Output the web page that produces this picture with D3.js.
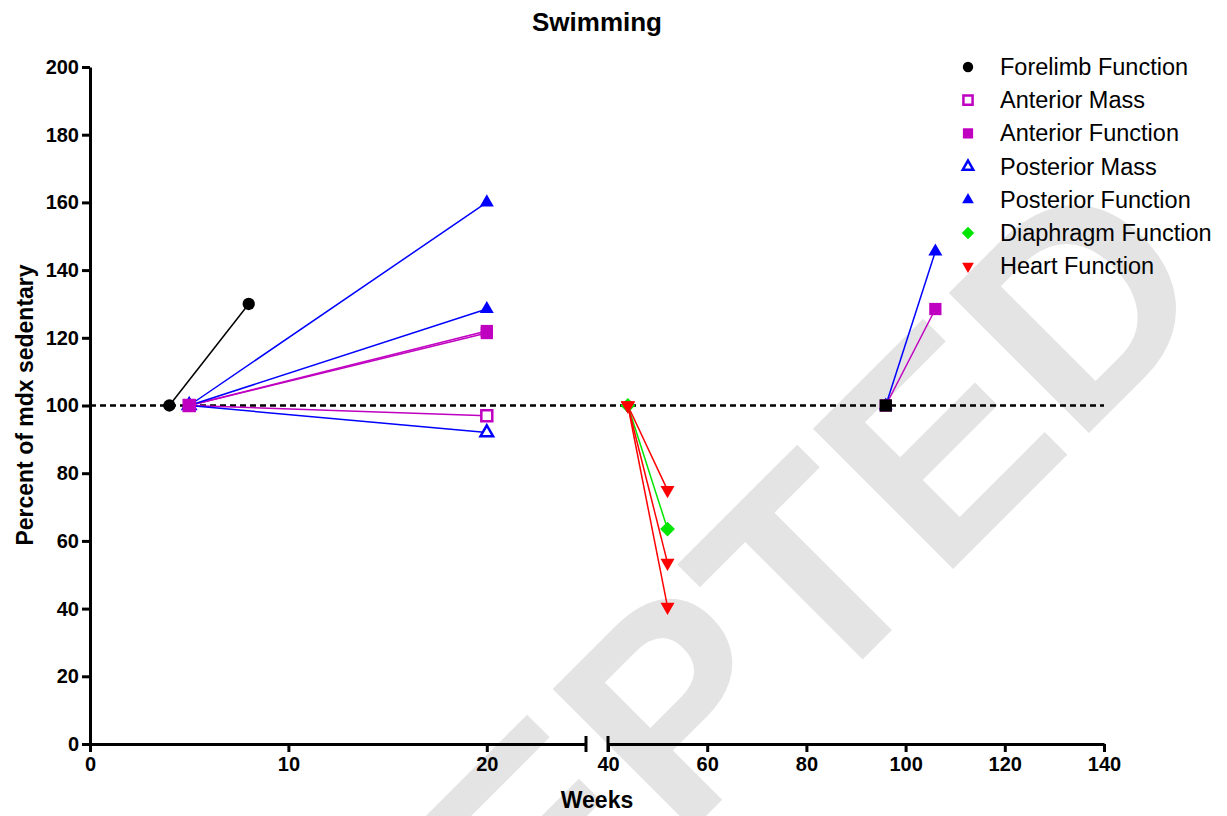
<!DOCTYPE html>
<html>
<head>
<meta charset="utf-8">
<script src="https://cdn.jsdelivr.net/npm/d3@7"></script>
<style>
  body { margin: 0; background: #fff; }
  svg { display: block; font-family: Arial, "Liberation Sans", sans-serif; }
</style>
</head>
<body>
<svg id="chart" width="1227" height="816"></svg>
<script>
// each row: [start week, start %, end week, end %]
const forelimbFunction = [[4, 100, 8, 130]];
const anteriorMass = [[5, 100, 20, 97]];
const anteriorFunction = [[5, 100, 20, 122], [5, 100, 20, 121.4], [96, 100, 106, 128.5]];
const posteriorMass = [[5, 100, 20, 92]];
const posteriorFunction = [[5, 100, 20, 160], [5, 100, 20, 128.5], [96, 100, 106, 145.5]];
const diaphragmFunction = [[44, 100, 52, 63.5]];
const heartFunction = [[44, 100, 52, 75], [44, 100, 52, 53.5], [44, 100, 52, 40.5]];
const baselinePoints = [[96, 100]];

const seriesNames = ["Forelimb Function", "Anterior Mass", "Anterior Function", "Posterior Mass",
  "Posterior Function", "Diaphragm Function", "Heart Function"];

const xTicksLeft = [0, 10, 20];
const xTicksRight = [40, 60, 80, 100, 120, 140];
const yTicks = [0, 20, 40, 60, 80, 100, 120, 140, 160, 180, 200];

const svg = d3.select("#chart");
const magenta = "#c000c0";

const series = [
  { name: seriesNames[0], data: forelimbFunction, color: "#000", shape: "circle", open: false },
  { name: seriesNames[1], data: anteriorMass, color: magenta, shape: "square", open: true },
  { name: seriesNames[2], data: anteriorFunction, color: magenta, shape: "square", open: false },
  { name: seriesNames[3], data: posteriorMass, color: "#0000ff", shape: "triangle", open: true },
  { name: seriesNames[4], data: posteriorFunction, color: "#0000ff", shape: "triangle", open: false },
  { name: seriesNames[5], data: diaphragmFunction, color: "#00e600", shape: "diamond", open: false },
  { name: seriesNames[6], data: heartFunction, color: "#ff0000", shape: "down", open: false }
];

// watermark
svg.append("g")
  .attr("transform", "translate(1088,434) rotate(-45)")
  .append("text")
  .attr("text-anchor", "end")
  .attr("x", 190)
  .attr("y", 0)
  .style("font-size", "288px")
  .style("font-weight", "bold")
  .style("fill", "#e4e4e4")
  .text("ACCEPTED");

// broken x axis: two linear pieces
const xLeft = d3.scaleLinear().domain([0, 25]).range([90, 586]);
const xRight = d3.scaleLinear().domain([40, 140]).range([608, 1104]);
const x = v => v <= 30 ? xLeft(v) : xRight(v);
const y = d3.scaleLinear().domain([0, 200]).range([744, 67]);

function styleAxis(g, size) {
  g.select(".domain").attr("stroke-width", 3);
  g.selectAll(".tick line").attr("stroke-width", 3);
  g.selectAll(".tick text")
    .style("font-size", size)
    .style("font-weight", "bold")
    .attr("fill", "#000");
}

svg.append("g")
  .attr("transform", "translate(90,0)")
  .call(d3.axisLeft(y).tickValues(yTicks).tickSize(8).tickSizeOuter(0).tickPadding(3))
  .call(g => styleAxis(g, "20px"));

svg.append("g")
  .attr("transform", "translate(0,744)")
  .call(d3.axisBottom(xLeft).tickValues(xTicksLeft).tickSize(8).tickSizeOuter(0).tickPadding(5))
  .call(g => styleAxis(g, "20px"));

svg.append("g")
  .attr("transform", "translate(0,744)")
  .call(d3.axisBottom(xRight).tickValues(xTicksRight).tickSize(8).tickSizeOuter(0).tickPadding(5))
  .call(g => styleAxis(g, "20px"));

// break marks
svg.selectAll(".brk")
  .data([xLeft(25), xRight(40)])
  .enter().append("line")
  .attr("class", "brk")
  .attr("x1", d => d).attr("x2", d => d)
  .attr("y1", 736).attr("y2", 752)
  .attr("stroke", "#000").attr("stroke-width", 3);

// reference line at 100%
svg.append("line")
  .attr("x1", x(0)).attr("x2", x(140))
  .attr("y1", y(100)).attr("y2", y(100))
  .attr("stroke", "#000").attr("stroke-width", 2.5)
  .attr("stroke-dasharray", "6,4");

function symbolPath(shape, scale) {
  const k = scale || 1;
  if (shape === "circle") return d3.symbol(d3.symbolCircle, 120 * k)();
  if (shape === "square") return d3.symbol(d3.symbolSquare, 150 * k)();
  if (shape === "diamond") return d3.symbol(d3.symbolSquare, 110 * k)();
  return d3.symbol(d3.symbolTriangle, 85 * k)();
}
function symbolRot(shape) {
  if (shape === "diamond") return 45;
  if (shape === "down") return 180;
  return 0;
}

function drawMarker(g, s, px, py, scale) {
  g.append("path")
    .attr("d", symbolPath(s.shape, s.open ? scale * 0.8 : scale))
    .attr("transform", `translate(${px},${py}) rotate(${symbolRot(s.shape)})`)
    .attr("fill", s.open ? "#fff" : s.color)
    .attr("stroke", s.color)
    .attr("stroke-width", s.open ? 2.5 : 0);
}

const plot = svg.append("g");

// lines
series.forEach(s => {
  plot.selectAll(null)
    .data(s.data)
    .enter().append("line")
    .attr("x1", d => x(d[0])).attr("y1", d => y(d[1]))
    .attr("x2", d => x(d[2])).attr("y2", d => y(d[3]))
    .attr("stroke", s.color).attr("stroke-width", 1.5);
});

// markers (order picks which start marker sits on top)
const drawOrder = [4, 3, 1, 2, 0, 5, 6];
drawOrder.forEach(i => {
  const s = series[i];
  s.data.forEach(d => {
    drawMarker(plot, s, x(d[2]), y(d[3]), 1);
    drawMarker(plot, s, x(d[0]), y(d[1]), 1);
  });
});

baselinePoints.forEach(d => {
  drawMarker(plot, { shape: "square", color: "#000", open: false }, x(d[0]), y(d[1]), 1);
});

// legend
const legend = svg.append("g").attr("transform", "translate(968,67)");
series.forEach((s, i) => {
  const row = legend.append("g").attr("transform", `translate(0,${i * 33.2})`);
  drawMarker(row, s, 0, 0, 0.7);
  row.append("text")
    .attr("x", 32).attr("y", 8)
    .style("font-size", "23.5px")
    .text(s.name);
});

// titles
svg.append("text")
  .attr("x", 597).attr("y", 31)
  .attr("text-anchor", "middle")
  .style("font-size", "26px").style("font-weight", "bold")
  .text("Swimming");

svg.append("text")
  .attr("x", 597).attr("y", 808)
  .attr("text-anchor", "middle")
  .style("font-size", "23px").style("font-weight", "bold")
  .text("Weeks");

svg.append("text")
  .attr("transform", "translate(33,405) rotate(-90)")
  .attr("text-anchor", "middle")
  .style("font-size", "23px").style("font-weight", "bold")
  .text("Percent of mdx sedentary");
</script>
</body>
</html>
